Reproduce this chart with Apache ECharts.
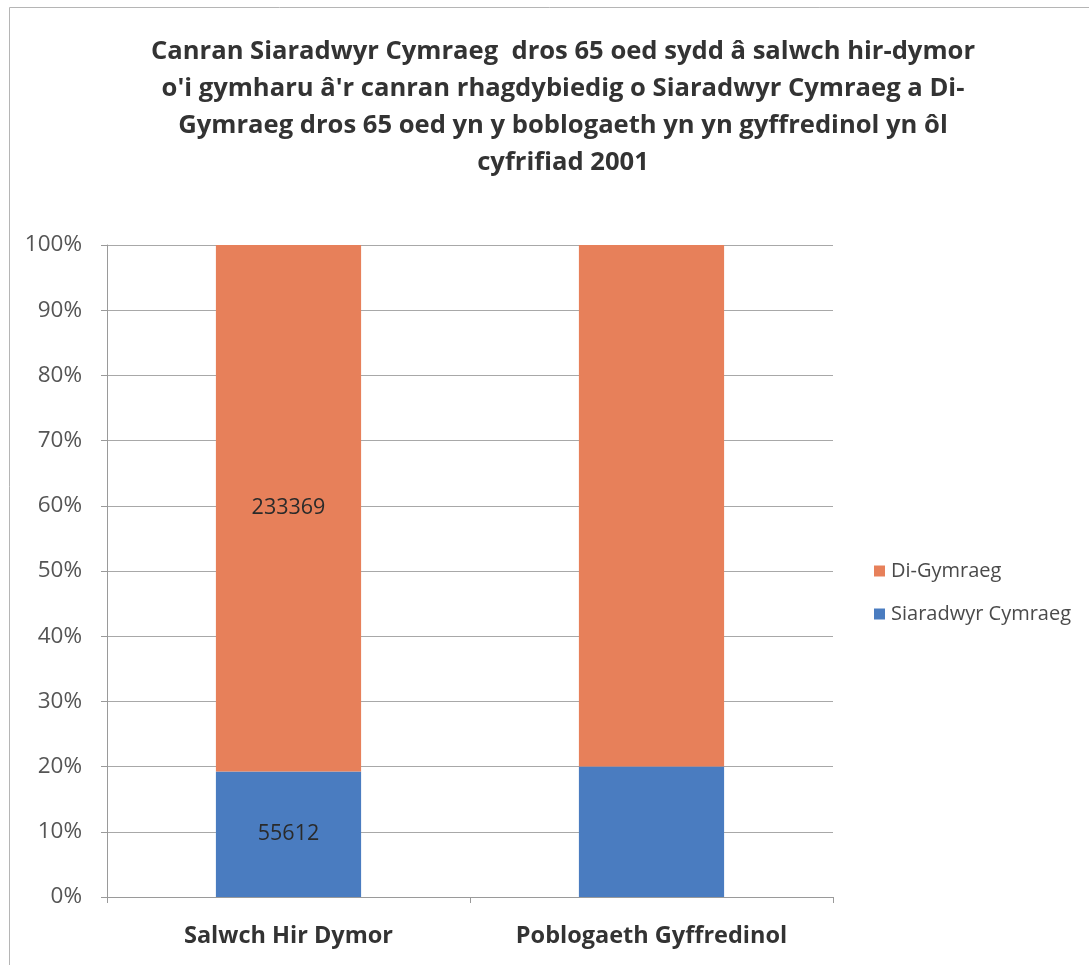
<!DOCTYPE html>
<html>
<head>
<meta charset="utf-8">
<title>Canran Siaradwyr Cymraeg dros 65 oed</title>
<script src="https://cdn.jsdelivr.net/npm/echarts@6/dist/echarts.min.js"></script>
<style>
  html, body { margin: 0; padding: 0; background: #ffffff; }
  #chart { width: 1089px; height: 965px; }
</style>
</head>
<body>
<div id="chart"></div>
<script>
// Categories on the x axis
const categories = ['Salwch Hir Dymor', 'Poblogaeth Gyffredinol'];
// Welsh speakers over 65 (count for long-term illness; share for general population)
const welshSpeakers = [55612, 20.0];
// Non-Welsh speakers over 65 (count for long-term illness; share for general population)
const nonWelsh = [233369, 80.0];
// Which bars carry a value label
const showLabel = [true, false];
// Y axis ticks
const yMin = 0, yMax = 100, yStep = 10;

const titleText = "Canran Siaradwyr Cymraeg  dros 65 oed sydd â salwch hir-dymor\n" +
  "o'i gymharu â'r canran rhagdybiedig o Siaradwyr Cymraeg a Di-\n" +
  "Gymraeg dros 65 oed yn y boblogaeth yn yn gyffredinol yn ôl\n" +
  "cyfrifiad 2001";

// 100% stacking: each column is shown as a share of its total
const totals = categories.map((_, i) => welshSpeakers[i] + nonWelsh[i]);
const toShare = (arr) => arr.map((v, i) => ({
  value: v / totals[i] * 100,
  raw: v,
  label: { show: showLabel[i] }
}));

const font = "'Open Sans', 'Liberation Sans', sans-serif";

const chart = echarts.init(document.getElementById('chart'), null, { renderer: 'canvas' });
chart.setOption({
  backgroundColor: '#ffffff',
  animation: false,
  textStyle: { fontFamily: font },
  title: {
    text: titleText,
    left: 558,
    top: 28,
    textAlign: 'center',
    textStyle: {
      fontFamily: font,
      fontSize: 25.6,
      fontWeight: 'bold',
      color: '#333333',
      lineHeight: 37
    }
  },
  legend: {
    orient: 'vertical',
    left: 869,
    top: 555,
    itemWidth: 11,
    itemHeight: 11,
    itemGap: 21,
    icon: 'rect',
    data: ['Di-Gymraeg', 'Siaradwyr Cymraeg'],
    textStyle: { fontFamily: font, fontSize: 20, lineHeight: 22, color: '#4a4a4a', padding: [0, 0, 0, 1] }
  },
  grid: { left: 107, right: 256, top: 245, bottom: 68, containLabel: false },
  xAxis: {
    type: 'category',
    data: categories,
    axisLine: { show: true, lineStyle: { color: '#9a9a9a', width: 1 } },
    axisTick: { show: true, length: 6, alignWithLabel: false, lineStyle: { color: '#9a9a9a' } },
    axisLabel: {
      margin: 27,
      fontFamily: font,
      fontSize: 23.5,
      fontWeight: 'bold',
      color: '#333333'
    }
  },
  yAxis: {
    type: 'value',
    min: yMin,
    max: yMax,
    interval: yStep,
    axisLine: { show: true, lineStyle: { color: '#9a9a9a', width: 1 } },
    axisTick: { show: true, length: 6, lineStyle: { color: '#9a9a9a' } },
    axisLabel: {
      formatter: '{value}%',
      margin: 25,
      fontFamily: font,
      fontSize: 22.5,
      color: '#555555'
    },
    splitLine: { show: true, lineStyle: { color: '#a8a8a8', width: 1 } }
  },
  series: [
    {
      name: 'Siaradwyr Cymraeg',
      type: 'bar',
      stack: 'total',
      barWidth: '40%',
      data: toShare(welshSpeakers),
      itemStyle: { color: '#4a7cc0' },
      label: {
        position: 'inside',
        fontFamily: font,
        fontSize: 21.5,
        color: '#2a2a2a',
        formatter: (p) => String(p.data.raw)
      }
    },
    {
      name: 'Di-Gymraeg',
      type: 'bar',
      stack: 'total',
      barWidth: '40%',
      data: toShare(nonWelsh),
      itemStyle: { color: '#e7805a' },
      label: {
        position: 'inside',
        fontFamily: font,
        fontSize: 21.5,
        color: '#2a2a2a',
        formatter: (p) => String(p.data.raw)
      }
    }
  ],
  graphic: [
    {
      type: 'rect',
      shape: { x: 9.5, y: 7.5, width: 1100, height: 1000 },
      style: { fill: 'none', stroke: '#b5b5b5', lineWidth: 1 },
      silent: true,
      z: -1
    }
  ]
});
</script>
</body>
</html>
